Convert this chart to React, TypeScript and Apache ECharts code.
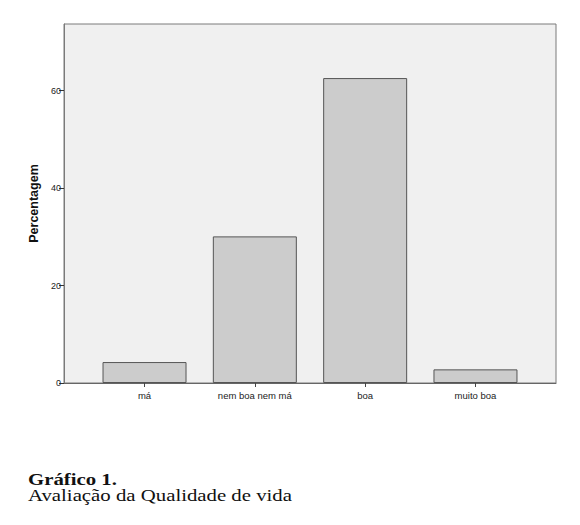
import React, { useEffect, useRef } from "react";
import * as echarts from "echarts";

const categories = ["má", "nem boa nem má", "boa", "muito boa"];
const values = [4.3, 30.1, 62.6, 2.8];
const yTicks = [0, 20, 40, 60];

export default function App() {
  const ref = useRef<HTMLDivElement>(null);
  useEffect(() => {
    if (!ref.current) return;
    const chart = echarts.init(ref.current, null, { renderer: "svg" });
    chart.setOption({
      animation: false,
      backgroundColor: "#ffffff",
      grid: {
        left: 64,
        top: 24,
        right: 24,
        bottom: 142,
        show: true,
        backgroundColor: "#f0f0f0",
        borderColor: "#7a7a7a",
        borderWidth: 1,
      },
      xAxis: {
        type: "value",
        min: -0.73,
        max: 3.73,
        splitLine: { show: false },
        axisLine: { show: true, onZero: false, lineStyle: { color: "#666", width: 1 } },
        axisTick: {
          show: true,
          customValues: categories.map((_, i) => i),
          length: 4,
          lineStyle: { color: "#444" },
        },
        axisLabel: {
          customValues: categories.map((_, i) => i),
          formatter: (v: number) => categories[Math.round(v)] ?? "",
          fontFamily: "Arial, Liberation Sans, sans-serif",
          fontSize: 9.5,
          color: "#222",
          margin: 7,
        },
      },
      yAxis: {
        type: "value",
        min: 0,
        max: 73.7,
        name: "Percentagem",
        nameLocation: "middle",
        nameGap: 24,
        nameTextStyle: {
          fontFamily: "Arial, Liberation Sans, sans-serif",
          fontSize: 12.5,
          fontWeight: "bold",
          color: "#111",
        },
        splitLine: { show: false },
        axisLine: { show: true, onZero: false, lineStyle: { color: "#7a7a7a" } },
        axisTick: {
          show: true,
          customValues: yTicks,
          length: 5,
          lineStyle: { color: "#333" },
        },
        axisLabel: {
          customValues: yTicks,
          fontFamily: "Arial, Liberation Sans, sans-serif",
          fontSize: 9,
          color: "#222",
          margin: 3,
        },
      },
      series: [
        {
          type: "bar",
          data: values.map((v, i) => [i, v]),
          barWidth: 84,
          itemStyle: {
            color: "#cccccc",
            borderColor: "#555555",
            borderWidth: 1,
          },
        },
      ],
      graphic: [
        {
          type: "text",
          x: 28,
          y: 471,
          scaleX: 1.3,
          style: {
            text: "Gráfico 1.",
            font: "bold 16px 'Liberation Serif', 'Times New Roman', serif",
            fill: "#111",
          },
        },
        {
          type: "text",
          x: 28,
          y: 487,
          scaleX: 1.3,
          style: {
            text: "Avaliação da Qualidade de vida",
            font: "16px 'Liberation Serif', 'Times New Roman', serif",
            fill: "#111",
          },
        },
      ],
    });
    return () => chart.dispose();
  }, []);
  return (
    <div
      ref={ref}
      style={{ position: "fixed", left: 0, top: 0, width: 580, height: 525 }}
    />
  );
}
